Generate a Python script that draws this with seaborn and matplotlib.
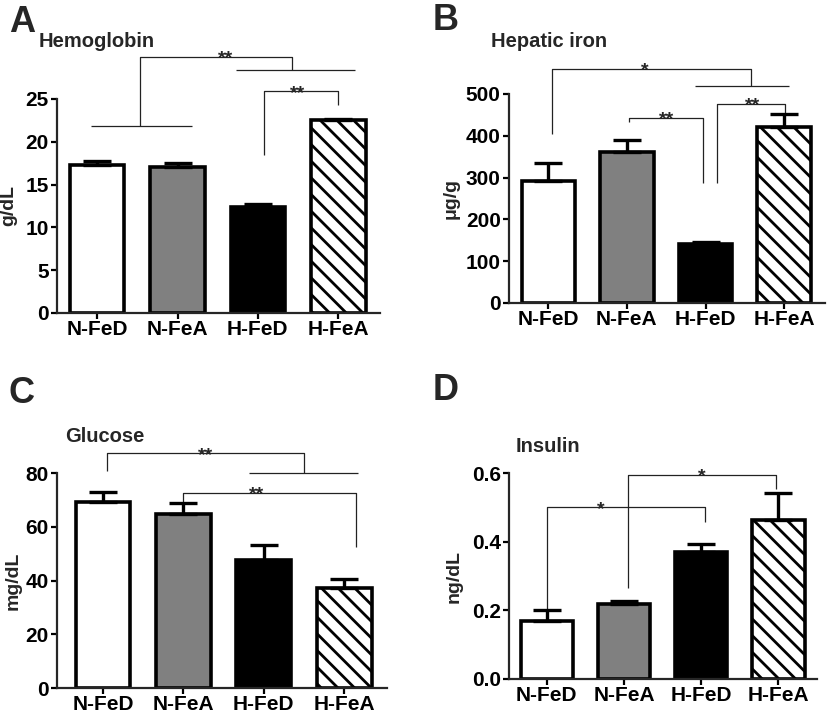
import numpy as np
import matplotlib
matplotlib.use("Agg")
import matplotlib.pyplot as plt
from matplotlib.ticker import FormatStrFormatter
import seaborn as sns

# group names and measured values (mean, upper SEM)
groups = ["N-FeD", "N-FeA", "H-FeD", "H-FeA"]

hemoglobin = [17.3, 17.0, 12.4, 22.5]
hemoglobin_err = [0.5, 0.5, 0.35, 0.2]

hepatic_iron = [292, 362, 141, 421]
hepatic_iron_err = [42, 28, 6, 30]

glucose = [69.4, 64.8, 47.7, 37.4]
glucose_err = [3.5, 4.2, 5.5, 3.2]

insulin = [0.170, 0.219, 0.370, 0.463]
insulin_err = [0.031, 0.009, 0.024, 0.079]

bar_colors = ["white", "#808080", "black", "white"]

sns.set_style("ticks")
plt.rcParams["font.family"] = ["Liberation Sans", "DejaVu Sans"]
plt.rcParams["font.weight"] = "bold"
plt.rcParams["hatch.linewidth"] = 2.0
plt.rcParams["hatch.color"] = "black"

fig = plt.figure(figsize=(8.27, 7.15), dpi=100)
W, H = 827.0, 715.0


def px_axes(left, right, top, bottom):
    # axes placed from pixel edges of the reference
    return fig.add_axes([left / W, 1 - bottom / H, (right - left) / W, (bottom - top) / H])


def draw_panel(ax, values, errs, ylim, yticks, xlim, ylabel, label_x, fmt=None):
    sns.barplot(x=groups, y=values, hue=groups, palette=bar_colors, saturation=1,
                width=0.68, edgecolor="black", linewidth=2.6, legend=False, ax=ax)
    ax.patches[3].set_hatch("\\\\")
    ax.errorbar(range(len(groups)), values, yerr=[np.zeros(len(errs)), errs], fmt="none",
                ecolor="black", elinewidth=2.4, capsize=10, capthick=2.4, zorder=5)
    ax.set_xlim(*xlim)
    ax.set_ylim(*ylim)
    ax.set_yticks(yticks)
    if fmt:
        ax.yaxis.set_major_formatter(FormatStrFormatter(fmt))
    ax.set_xlabel("")
    ax.set_ylabel(ylabel, fontsize=14, fontweight="bold")
    ax.yaxis.set_label_coords(label_x, 0.5)
    sns.despine(ax=ax)
    for s in ["left", "bottom"]:
        ax.spines[s].set_linewidth(1.6)
    ax.tick_params(axis="both", length=4.5, width=1.6, labelsize=15, pad=1.5, colors="black")
    ax.tick_params(axis="x", pad=0.5)
    for t in ax.get_xticklabels() + ax.get_yticklabels():
        t.set_fontweight("bold")


def bracket(ax, x1, x2, y, y_left, y_right, star_x, label, left_base=None, right_base=None):
    kw = dict(color="#222222", lw=0.9, clip_on=False, solid_capstyle="butt")
    ax.plot([x1, x1, x2, x2], [y_left, y, y, y_right], **kw)
    if left_base:
        ax.plot(left_base, [y_left, y_left], **kw)
    if right_base:
        ax.plot(right_base, [y_right, y_right], **kw)
    ax.annotate(label, xy=(star_x, y), xytext=(0, -4.6), textcoords="offset points",
                ha="center", va="baseline", fontsize=14, fontweight="bold",
                annotation_clip=False)


# A: hemoglobin
axA = px_axes(57, 380, 99, 313)
draw_panel(axA, hemoglobin, hemoglobin_err, (0, 25), [0, 5, 10, 15, 20, 25],
           (-0.5, 3.52), "g/dL", -0.124)
bracket(axA, 0.535, 2.43, 29.9, 21.85, 28.4, 1.6, "**",
        left_base=(-0.075, 1.18), right_base=(1.73, 3.21))
bracket(axA, 2.08, 3.0, 25.9, 18.5, 24.3, 2.5, "**")

# B: hepatic iron
axB = px_axes(509, 825, 94, 303)
draw_panel(axB, hepatic_iron, hepatic_iron_err, (0, 500), [0, 100, 200, 300, 400, 500],
           (-0.5, 3.52), "\u03bcg/g", -0.155)
bracket(axB, 0.05, 2.58, 560, 404, 519, 1.23, "*", right_base=(1.87, 3.06))
bracket(axB, 1.03, 1.97, 443, 433, 287, 1.5, "**")
bracket(axB, 2.15, 3.01, 476, 287, 454, 2.6, "**")

# C: glucose
axC = px_axes(57, 387, 473.3, 688)
draw_panel(axC, glucose, glucose_err, (0, 80), [0, 20, 40, 60, 80],
           (-0.57, 3.53), "mg/dL", -0.106)
bracket(axC, 0.05, 2.5, 87.4, 80.8, 80.2, 1.28, "**", right_base=(1.81, 3.17))
bracket(axC, 1.0, 3.14, 72.8, 69.4, 52.5, 1.91, "**")

# D: insulin
axD = px_axes(509, 817, 473.3, 679)
draw_panel(axD, insulin, insulin_err, (0, 0.6), [0.0, 0.2, 0.4, 0.6],
           (-0.49, 3.50), "ng/dL", -0.149, fmt="%.1f")
bracket(axD, 0.0, 2.05, 0.501, 0.204, 0.458, 0.7, "*")
bracket(axD, 1.05, 2.97, 0.595, 0.265, 0.554, 2.01, "*")

# panel letters and titles
for letter, x, y in [("A", 9, 32), ("B", 433, 30), ("C", 9, 403), ("D", 433, 400)]:
    fig.text(x / W, 1 - y / H, letter, fontsize=26, fontweight="bold", va="baseline")
for title, x, y in [("Hemoglobin", 39, 47), ("Hepatic iron", 491, 47),
                    ("Glucose", 65, 442), ("Insulin", 516, 452)]:
    fig.text(x / W, 1 - y / H, title, fontsize=14.5, fontweight="bold", va="baseline")

fig.savefig("out.png", dpi=100, facecolor="white")
